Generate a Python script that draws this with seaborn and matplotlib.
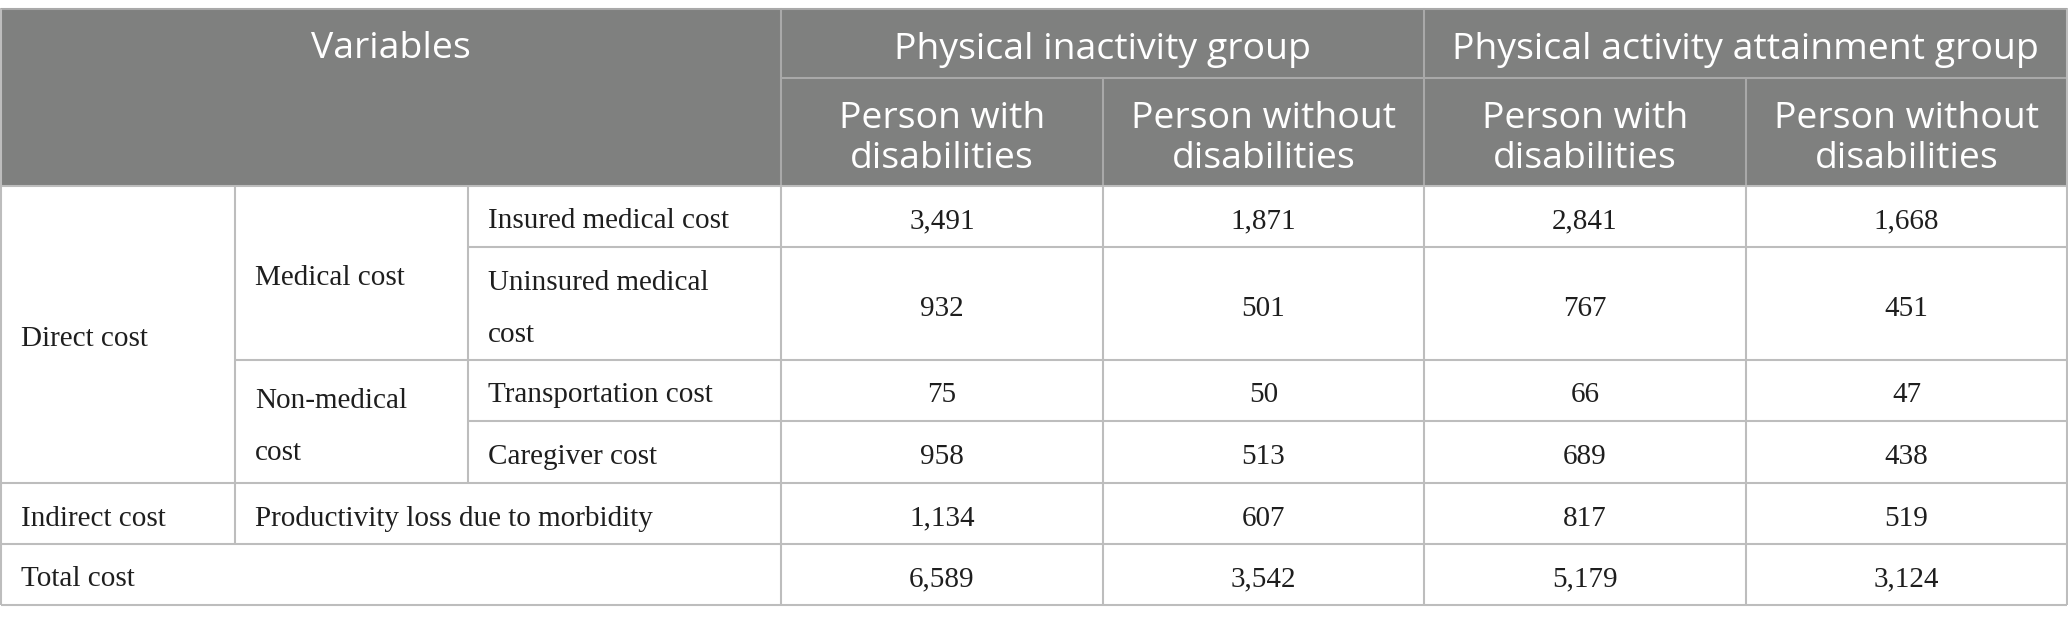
import numpy as np
import matplotlib
matplotlib.use("Agg")
import matplotlib.pyplot as plt
import seaborn as sns

# --- data ---
groups = ["Physical inactivity group", "Physical activity attainment group"]
subgroups = ["Person with\ndisabilities", "Person without\ndisabilities"]
level1 = ["Direct cost", "Indirect cost", "Total cost"]
level2 = ["Medical cost", "Non-medical\ncost", "Productivity loss due to morbidity"]
level3 = ["Insured medical cost", "Uninsured medical\ncost", "Transportation cost", "Caregiver cost"]
inactive_with = [3491, 932, 75, 958, 1134, 6589]
inactive_without = [1871, 501, 50, 513, 607, 3542]
attain_with = [2841, 767, 66, 689, 817, 5179]
attain_without = [1668, 451, 47, 438, 519, 3124]

# --- layout (pixels) ---
W, H = 2068, 624
cols = [1, 235, 468, 781, 1103, 1424, 1746, 2067]
rows = [186, 247, 360, 421, 483, 544, 605]
top, mid = 9, 78
HEAD = "#7f807f"
LINE = "#bdbdbd"
HLINE = "#a9a9a9"
TXT = "#1e1e1e"

sns.set_theme(style="white")
plt.rcParams["font.family"] = ["Open Sans", "DejaVu Sans"]

fig = plt.figure(figsize=(W / 100, H / 100), dpi=100)
ax = fig.add_axes([0, 0, 1, 1])
ax.set_xlim(0, W)
ax.set_ylim(H, 0)
ax.axis("off")

# header background
ax.add_patch(plt.Rectangle((cols[0], top), cols[-1] - cols[0], rows[0] - top, color=HEAD, lw=0))
ax.plot([cols[0], cols[-1]], [top, top], color=HLINE, lw=1.5)
ax.plot([cols[3], cols[-1]], [mid, mid], color=HLINE, lw=1.5)
for x in [cols[3], cols[5]]:
    ax.plot([x, x], [top, rows[0]], color=HLINE, lw=1.5)
for x in [cols[4], cols[6]]:
    ax.plot([x, x], [mid, rows[0]], color=HLINE, lw=1.5)

hfont = dict(family=["Open Sans", "DejaVu Sans"], size=26.9, color="white", ha="center", va="center")
ax.text((cols[0] + cols[3]) / 2, (top + mid) / 2 + 6, "Variables", **hfont)
for g, name in enumerate(groups):
    ax.text((cols[3 + 2 * g] + cols[5 + 2 * g]) / 2, (top + mid) / 2 + 6, name, **hfont)
    for s, sub in enumerate(subgroups):
        xc = (cols[3 + 2 * g + s] + cols[4 + 2 * g + s]) / 2
        l1, l2 = sub.split("\n")
        ax.text(xc, 119, l1, **hfont)
        ax.text(xc, 159, l2, **hfont)

# body lines
def hline(y, x0, x1):
    ax.plot([x0, x1], [y, y], color=LINE, lw=1.5, solid_capstyle="butt")

def vline(x, y0, y1):
    ax.plot([x, x], [y0, y1], color=LINE, lw=1.5, solid_capstyle="butt")

hline(rows[0], cols[0], cols[-1])
hline(rows[1], cols[2], cols[-1])
hline(rows[2], cols[1], cols[-1])
hline(rows[3], cols[2], cols[-1])
hline(rows[4], cols[0], cols[-1])
hline(rows[5], cols[0], cols[-1])
hline(rows[6], cols[0], cols[-1])
vline(cols[0], rows[0], rows[6])
vline(cols[-1], top, rows[6])
vline(cols[0], top, rows[0])
vline(cols[1], rows[0], rows[5])
vline(cols[2], rows[0], rows[4])
for x in cols[3:7]:
    vline(x, rows[0], rows[6])

bfont = dict(family=["Liberation Serif", "DejaVu Serif"], size=21, color=TXT, va="center")
PAD = 20
LS = 52
DY = 5

def cell_text(x, y0, y1, txt):
    lines = txt.split("\n")
    yc = (y0 + y1) / 2 - (len(lines) - 1) * LS / 2 + DY
    for i, t in enumerate(lines):
        ax.text(x + PAD, yc + i * LS, t, ha="left", **bfont)

cell_text(cols[0], rows[0], rows[4], level1[0])
cell_text(cols[0], rows[4], rows[5], level1[1])
cell_text(cols[0], rows[5], rows[6], level1[2])
cell_text(cols[1], rows[0], rows[2], level2[0])
cell_text(cols[1], rows[2], rows[4], level2[1])
cell_text(cols[1], rows[4], rows[5], level2[2])
for i, lab in enumerate(level3):
    cell_text(cols[2], rows[i], rows[i + 1], lab)

for c, series in enumerate([inactive_with, inactive_without, attain_with, attain_without]):
    xc = (cols[3 + c] + cols[4 + c]) / 2
    for r, v in enumerate(series):
        ax.text(xc, (rows[r] + rows[r + 1]) / 2 + DY, f"{v:,}", ha="center", **bfont)

fig.savefig("out.png", dpi=100, facecolor="white")
